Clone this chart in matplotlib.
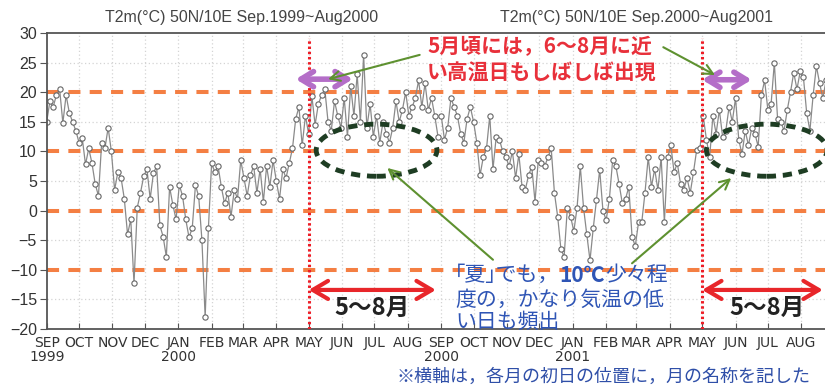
import matplotlib
matplotlib.use("Agg")
import matplotlib.dates as mdates
import matplotlib.pyplot as plt
import pandas as pd
from matplotlib.offsetbox import AnnotationBbox, HPacker, TextArea
from matplotlib.patches import Ellipse
from matplotlib.ticker import FuncFormatter

JP = ["Noto Sans CJK JP", "DejaVu Sans"]
NARROW = ["Liberation Sans Narrow", "DejaVu Sans"]
SANS = ["Liberation Sans", "DejaVu Sans"]

# 2 m air temperature (deg C) at 50N/10E, sampled every third day
temps_9900 = [
    15, 18.5, 17.5, 19.5, 20.5, 14.8, 19.5, 16.5, 15, 13.5,
    11.5, 12.2, 7.8, 10.5, 8, 4.5, 2.5, 11.5, 10.5, 14,
    10, 3.5, 6.5, 5.5, 2, -4, -1.5, -12.3, 0.5, 3,
    5.8, 7, 2, 6.3, 7.5, -2.5, -4.4, -7.8, 4, 1,
    -1.5, 4.3, 2.5, -1.5, -4.5, -3, 4.3, 2.4, -5, -18,
    -3, 8, 6.5, 7.5, 4, 1.2, 3, -1, 3.5, 2, 8.5,
    5.5, 2.5, 6, 7.5, 3, 7, 1.5, 7.5, 4, 8.5,
    5, 2, 7, 5.5, 8, 10.5, 15.5, 17.5, 11, 16,
    13, 19.3, 14.5, 18, 19.5, 20.5, 15, 13.5, 18.5, 16,
    14, 19, 12.5, 21, 16, 23, 15, 26.3, 14, 18,
    12.5, 16, 11.5, 15, 13, 11.5, 14, 18.5, 15, 17,
    20, 16, 17.5, 19, 22, 17.5, 21.5, 17, 19, 16, 12.5,
]
temps_0001 = [
    16, 12, 14, 19, 17.5, 16, 13, 11.5, 15.5, 17.5,
    15, 11.5, 6, 9, 10.5, 16, 7, 12.5, 12, 10,
    9, 7.5, 10, 5.5, 9.5, 4, 3.5, 6, 7.4, 1.5, 8.5,
    8, 7.5, 9, 10.5, 3, -1, -6.5, -7.8, 0.5, -1,
    -3.5, 0.5, 7.5, 0.5, -4, -8.4, -3, 1.8, 6.9, 0,
    -1.6, 2, 8.5, 7.5, 4.5, 1.2, 2, 4, -4.4, -6, -2,
    -2, 3, 9, 4, 7, 3.5, 9, -2, 9, 11,
    6.5, 8, 4.5, 3.5, 5.5, 3, 6.5, 10.3, 10.5, 16,
    12, 9, 16, 13, 17, 12.5, 13.5, 17.5, 15, 19,
    12, 9.5, 13.5, 11, 14, 13, 10.8, 19.5, 22, 17,
    18, 25, 15.5, 15, 13.5, 17, 20, 23.3, 20.5, 23.5,
    22.5, 16.5, 13.5, 19.5, 24.4, 21.5, 19, 22,
]
dates_9900 = pd.date_range("1999-09-01", periods=len(temps_9900), freq="3D")
dates_0001 = pd.date_range("2000-09-01", periods=len(temps_0001), freq="3D")

panel_titles = ["T2m(°C) 50N/10E Sep.1999~Aug2000",
                "T2m(°C) 50N/10E Sep.2000~Aug2001"]
ref_levels = [20, 10, 0, -10]
grid_levels = [25, 15, 5, -5, -15]
may_starts = [pd.Timestamp("2000-05-01"), pd.Timestamp("2001-05-01")]
summer_ends = [pd.Timestamp("2000-08-27"), pd.Timestamp("2001-08-21")]
cool_centers = [pd.Timestamp("2000-07-03"), pd.Timestamp("2001-06-30")]

start = pd.Timestamp("1999-09-01")
end = start + pd.Timedelta(days=722)

fig = plt.figure(figsize=(8.25, 3.89), dpi=100)
ax = fig.add_axes([0.0566, 0.1542, 0.9434, 0.761])
ax.set_xlim(start, end)
ax.set_ylim(-20, 30)

ax.xaxis.set_major_locator(mdates.MonthLocator())


def month_label(x, pos):
    d = mdates.num2date(x)
    s = d.strftime("%b").upper()
    if d.month in (1, 9):
        s += "\n" + str(d.year)
    return s


ax.xaxis.set_major_formatter(FuncFormatter(month_label))
ax.set_yticks(range(-20, 31, 5))
ax.tick_params(axis="x", direction="in", length=4, pad=5, colors="#555",
               labelcolor="#333", labelsize=10)
ax.tick_params(axis="y", direction="out", length=5, pad=2, colors="#555",
               labelcolor="#333", labelsize=11.5)
for lab in ax.get_xticklabels():
    lab.set_family(NARROW)
    lab.set_linespacing(1.0)
for lab in ax.get_yticklabels():
    lab.set_family(SANS)

for side in ("left", "bottom", "top"):
    ax.spines[side].set_color("#555")
    ax.spines[side].set_linewidth(1.3)
ax.spines["right"].set_visible(False)

# light dotted grid: every month, and the 5-degree levels between the dashed ones
grid_style = dict(color="#d4d4d4", ls=(0, (1, 2)), lw=0.9, zorder=0)
for m in pd.date_range(start, end, freq="MS")[1:]:
    ax.axvline(m, **grid_style)
for v in grid_levels:
    ax.axhline(v, **grid_style)

for v in ref_levels:
    ax.axhline(v, color="#f47f43", lw=2.9, ls=(0, (3.0, 2.3)), zorder=1.5)

for d, t in ((dates_9900, temps_9900), (dates_0001, temps_0001)):
    ax.plot(d, t, "-o", color="#8a8a8a", lw=0.9, mfc="white", mec="#666",
            ms=3.8, mew=0.8, zorder=2)

for m in may_starts:
    ax.plot([m, m], [-20, 29.2], color="#ee1c25", lw=2.2,
            ls=(0, (0.8, 0.9)), zorder=3)

# May-August span
for m, e in zip(may_starts, summer_ends):
    ax.annotate("", xy=(e, -13.4), xytext=(m, -13.4), zorder=4,
                arrowprops=dict(arrowstyle="<->,head_length=1.1,head_width=0.65",
                                color="#e8262a", lw=3.0, shrinkA=0, shrinkB=0,
                                mutation_scale=10))

# warm days already in May
warm_spans = [(pd.Timestamp("2000-04-19"), pd.Timestamp("2000-06-11"), 22.2),
              (pd.Timestamp("2001-05-01"), pd.Timestamp("2001-06-16"), 22.1)]
for a, b, y in warm_spans:
    ax.annotate("", xy=(b, y), xytext=(a, y), zorder=4,
                arrowprops=dict(arrowstyle="<->,head_length=0.9,head_width=0.55",
                                color="#b46ec8", lw=4.0, shrinkA=0, shrinkB=0,
                                mutation_scale=10))

# cool spells inside summer
for c in cool_centers:
    ax.add_patch(Ellipse((mdates.date2num(c), 10.2), 112, 8.8, fill=False,
                         ec="#1e3d23", lw=3.5, ls=(0, (1.9, 1.4)), zorder=4))

pointers = [
    (("2000-08-12", 26.3), ("2000-05-19", 22.2)),
    (("2001-03-26", 27.6), ("2001-05-13", 22.9)),
    (("2000-10-19", -8.3), ("2000-07-13", 7.2)),
    (("2001-02-25", -8.9), ("2001-05-28", 5.5)),
]
for (x0, y0), (x1, y1) in pointers:
    ax.annotate("", xy=(pd.Timestamp(x1), y1), xytext=(pd.Timestamp(x0), y0),
                zorder=5, annotation_clip=False,
                arrowprops=dict(arrowstyle="->,head_length=0.7,head_width=0.35",
                                color="#5e9130", lw=1.5, shrinkA=0, shrinkB=0,
                                mutation_scale=10))

# panel titles
for x, title in zip((0.293, 0.772), panel_titles):
    fig.text(x, 0.954, title, ha="center", va="center", fontsize=11.5,
             family=SANS, color="#444")

red = "#e8303a"
fig.text(0.5176, 0.879, "5月頃には，6～8月に近", family=JP, fontsize=15,
         weight="bold", color=red, va="center", ha="left")
fig.text(0.5176, 0.815, "い高温日もしばしば出現", family=JP, fontsize=15,
         weight="bold", color=red, va="center", ha="left")

blue = "#2f55b5"
line1 = HPacker(children=[
    TextArea("｢夏｣でも，", textprops=dict(family=JP, fontsize=15, color=blue)),
    TextArea("10℃", textprops=dict(family=JP, fontsize=15, color=blue, weight="bold")),
    TextArea("少々程", textprops=dict(family=JP, fontsize=15, color=blue)),
], pad=0, sep=0, align="center")
fig.add_artist(AnnotationBbox(line1, (0.5515, 0.293), xycoords="figure fraction",
                              box_alignment=(0, 0.5), frameon=False, pad=0))
fig.text(0.5515, 0.229, "度の，かなり気温の低", family=JP, fontsize=15,
         color=blue, va="center", ha="left")
fig.text(0.5515, 0.172, "い日も頻出", family=JP, fontsize=15,
         color=blue, va="center", ha="left")

for x in (0.451, 0.930):
    fig.text(x, 0.208, "5～8月", family=JP, fontsize=17, weight="bold",
             color="#222", ha="center", va="center")

fig.text(0.481, 0.031, "※横軸は，各月の初日の位置に，月の名称を記した",
         family=JP, fontsize=13, color="#2f4fa8", ha="left", va="center")

fig.savefig("out.png", dpi=100)
